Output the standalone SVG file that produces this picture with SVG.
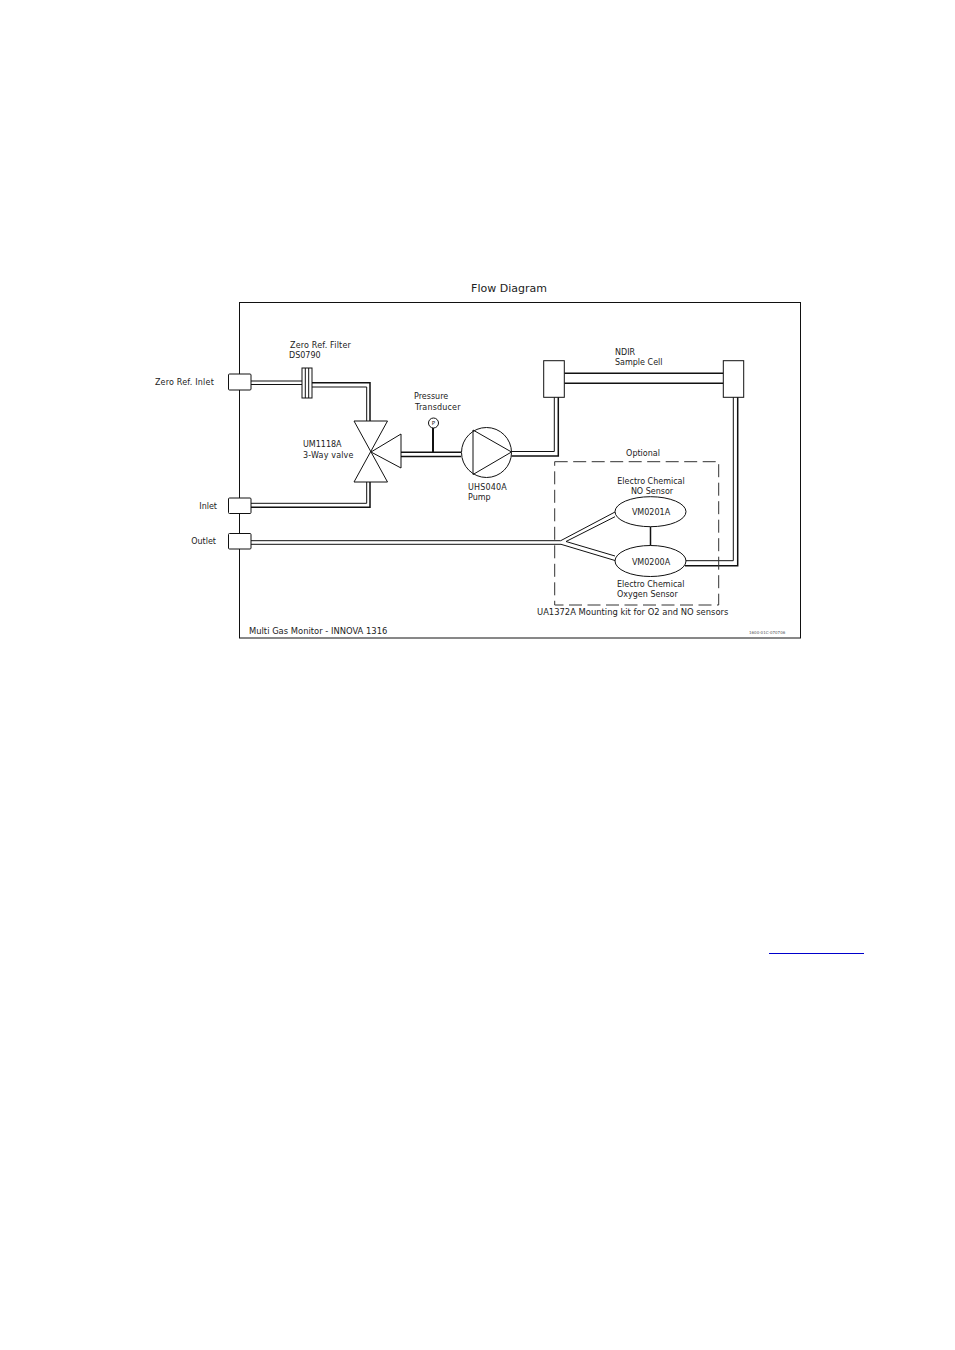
<svg xmlns="http://www.w3.org/2000/svg" width="955" height="1350" viewBox="0 0 955 1350">
<style>
text{font-family:"DejaVu Sans",Verdana,sans-serif;font-size:8px;fill:#222}
.m{text-anchor:middle}
.e{text-anchor:end}
.l{font-size:8.4px}
.w{letter-spacing:.17px}
.s{fill:#fff;stroke:#111;stroke-width:1}
.p{fill:none;stroke:#111;stroke-width:1}
.t{stroke-width:1.5}
</style>
<rect width="955" height="1350" fill="#fff"/>
<g id="frame"><rect x="239.5" y="302.5" width="561" height="335.5" class="p"/></g>
<g id="connectors">
<path class="p" d="M251 381H302M251 384.5H302"/>
<path class="p t" d="M312 382.7H370V421"/>
<path class="p" d="M312 387H366.7V421"/>
<path class="p" d="M251 503.3H366.7V482"/>
<path class="p t" d="M251 507.3H370V482"/>
<path class="p t" d="M401 452.3H461M401 456.5H461"/>
<path class="p t" d="M433 428V452" style="stroke-width:2"/>
<path class="p" d="M511.5 451.5H554.3V397"/>
<path class="p t" d="M511.5 456H558.3V397"/>
<path class="p t" d="M564.3 373.3H723.3M564.3 383.3H723.3"/>
<path class="p" d="M733.3 397V560.7H685.5"/>
<path class="p t" d="M737.7 397V565.7H685"/>
<path class="p" d="M251 540.7H560.7L615 512"/>
<path class="p" d="M251 544.3H561L615 560.5"/>
<path class="p" d="M615 516.7L566 541.5L615 556"/>
<path class="p t" d="M650.5 526.5V546"/>
</g>
<g id="dashed-box"><rect x="554.7" y="461.7" width="164" height="143.3" fill="none" stroke="#333" stroke-width="1" stroke-dasharray="13 5.5"/></g>
<g id="port-zero"><rect x="228.5" y="374" width="22.5" height="16" rx="1" class="s"/><text x="214" y="385" class="e" style="letter-spacing:.2px">Zero Ref. Inlet</text></g>
<g id="port-inlet"><rect x="228.5" y="498" width="22.5" height="15.5" rx="1" class="s"/><text x="217" y="509" class="e">Inlet</text></g>
<g id="port-outlet"><rect x="228.5" y="533.5" width="22.5" height="15.5" rx="1" class="s"/><text x="216" y="544" class="e">Outlet</text></g>
<g id="filter"><rect x="302" y="368" width="10" height="30" class="s"/><path class="p" d="M305.3 368V398M308.7 368V398"/><text x="290" y="347.5" class="w">Zero Ref. Filter</text><text x="289" y="357.5">DS0790</text></g>
<g id="valve"><path class="p" style="fill:#fff" d="M354 421H387.5L354 482H387.5Z"/><path class="p" style="fill:#fff" d="M371 452L401 434V468Z"/><text x="303" y="447">UM1118A</text><text x="303" y="458" class="w">3-Way valve</text></g>
<g id="transducer"><circle cx="433.5" cy="423" r="5" class="s"/><text x="433.5" y="425.2" class="m" style="font-size:5.5px">P</text><text x="414" y="398.5">Pressure</text><text x="415" y="409.5" class="w">Transducer</text></g>
<g id="pump"><circle cx="486.5" cy="452.5" r="25" class="s"/><path class="p" d="M473 430V474.5L511.5 452Z"/><text x="468" y="490" class="w">UHS040A</text><text x="468" y="500">Pump</text></g>
<g id="cell-left"><rect x="543.7" y="360.7" width="20.6" height="36.6" class="s"/></g>
<g id="cell-right"><rect x="723.3" y="360.7" width="20.4" height="36.6" class="s"/></g>
<text x="615" y="354.5">NDIR</text><text x="615" y="365">Sample Cell</text>
<text x="643" y="456" class="m">Optional</text>
<g id="sensor-no"><ellipse cx="650.5" cy="511.7" rx="35.5" ry="15" class="s"/><text x="651" y="514.5" class="m">VM0201A</text><text x="651" y="484" class="m">Electro Chemical</text><text x="652" y="494" class="m">NO Sensor</text></g>
<g id="sensor-o2"><ellipse cx="650.5" cy="561" rx="35.5" ry="15.5" class="s"/><text x="651" y="565" class="m">VM0200A</text><text x="617" y="587">Electro Chemical</text><text x="617" y="597">Oxygen Sensor</text></g>
<text x="537" y="614.5" class="l">UA1372A Mounting kit for O2 and NO sensors</text>
<text x="249" y="634" class="l">Multi Gas Monitor - INNOVA 1316</text>
<text x="509" y="292" class="m" style="font-size:11px">Flow Diagram</text>
<text x="749" y="634" style="font-size:4px;fill:#555">1600-01C-070706</text>
<line x1="769" y1="953.5" x2="864" y2="953.5" stroke="#0000cc" stroke-width="1.2"/>
</svg>
